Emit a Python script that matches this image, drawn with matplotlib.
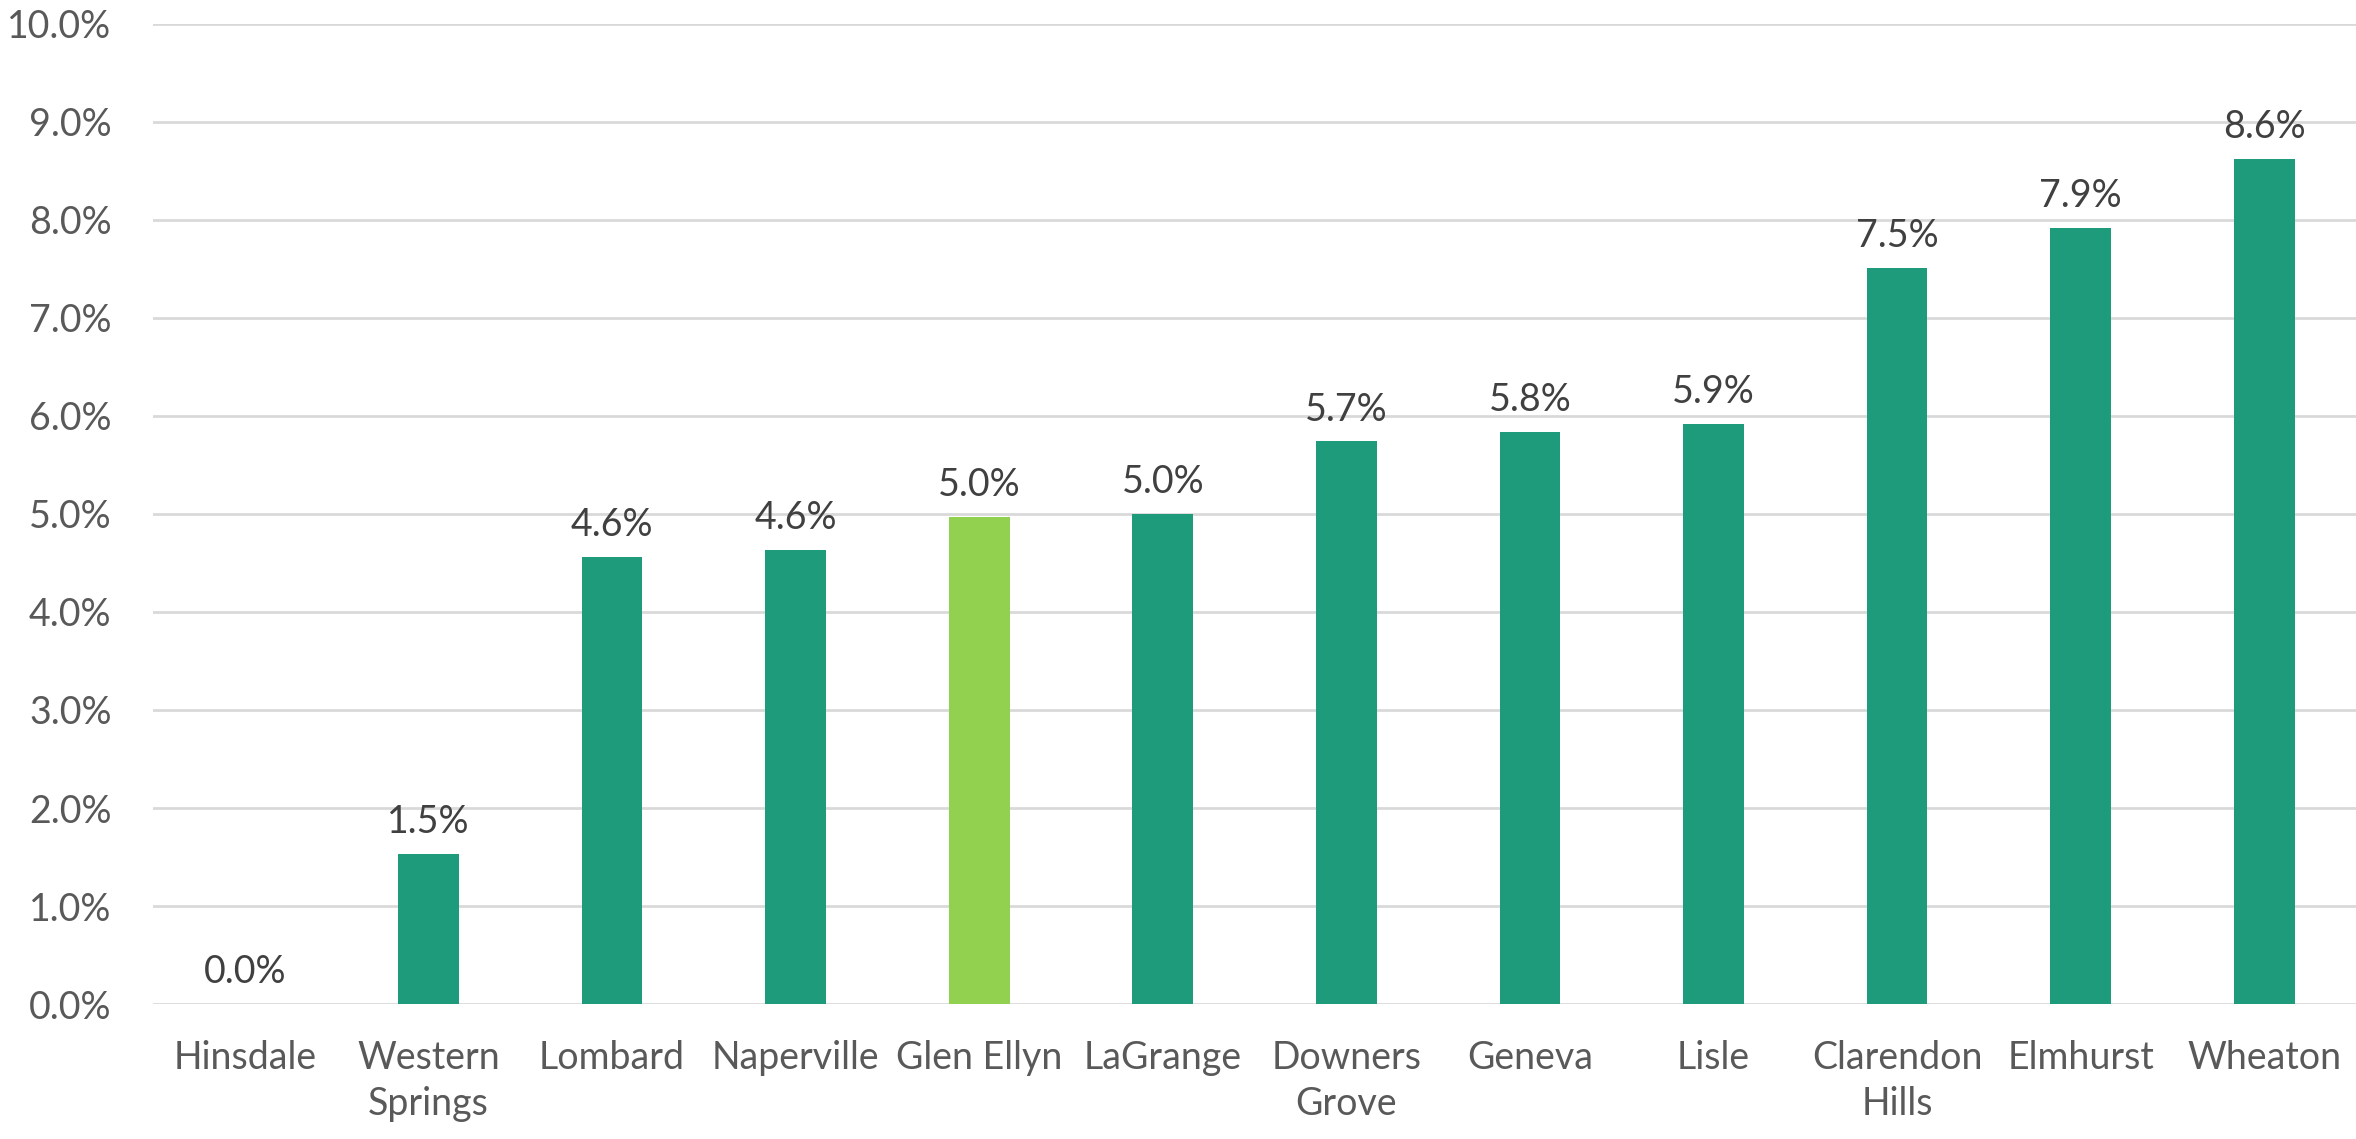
import matplotlib
matplotlib.use("Agg")
from matplotlib import pyplot as plt
import numpy as np

towns = ["Hinsdale", "Western\nSprings", "Lombard", "Naperville", "Glen Ellyn",
         "LaGrange", "Downers\nGrove", "Geneva", "Lisle", "Clarendon\nHills",
         "Elmhurst", "Wheaton"]
values = [0.0, 1.53, 4.56, 4.63, 4.97, 5.0, 5.74, 5.84, 5.92, 7.51, 7.92, 8.62]
highlight = "Glen Ellyn"

teal = "#1e9b7a"
lime = "#92d050"

plt.rcParams['font.family'] = ['Lato', 'DejaVu Sans']

fig = plt.figure(figsize=(23.56, 11.39), dpi=100)
ax = fig.add_axes([0.065, 0.1185, 0.935, 0.8605])

x = np.arange(len(towns))
colors = [lime if t == highlight else teal for t in towns]
bars = ax.bar(x, values, width=0.33, color=colors, zorder=3)

for xi, v in zip(x, values):
    ax.annotate("{:.1f}%".format(v), (xi, v), xytext=(0, 10),
                textcoords="offset points", ha="center", va="bottom",
                fontsize=27, color="#404040")

ax.set_xlim(-0.5, len(towns) - 0.5)
ax.set_ylim(0, 10)
ax.set_yticks(np.arange(0, 11, 1))
ax.set_yticklabels(["{:.1f}%".format(t) for t in range(11)])
ax.set_xticks(x)
ax.set_xticklabels(towns, linespacing=1.35)

ax.tick_params(axis="y", length=0, pad=30, labelsize=27, labelcolor="#595959")
ax.tick_params(axis="x", length=0, pad=26, labelsize=27, labelcolor="#595959")
ax.grid(axis="y", color="#d9d9d9", linewidth=2, zorder=0)
for s in ax.spines.values():
    s.set_visible(False)

fig.savefig("out.png", dpi=100)
